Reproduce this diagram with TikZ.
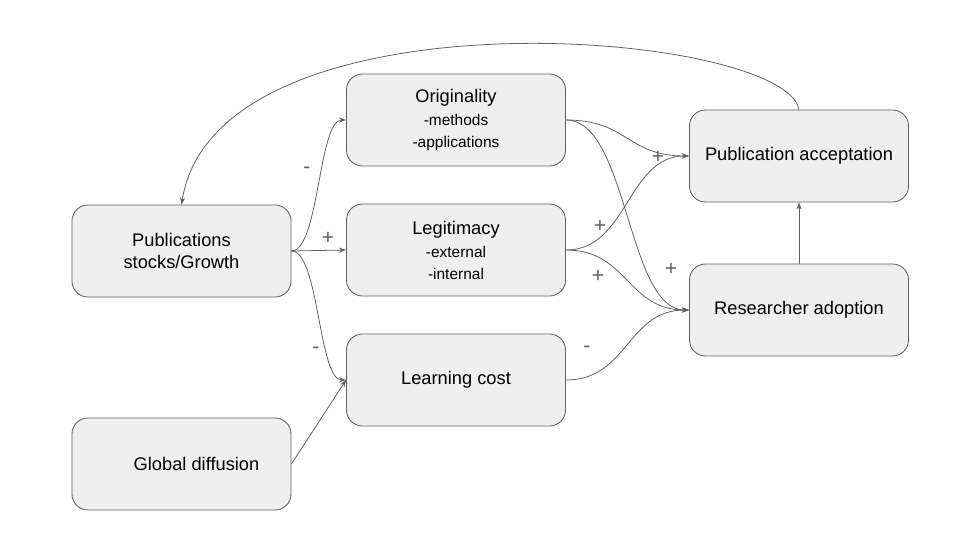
\documentclass[tikz,border=0pt]{standalone}
\usepackage{fontspec}
\setmainfont{Liberation Sans}
\usetikzlibrary{arrows.meta}
\definecolor{boxgray}{RGB}{239, 239, 239}
\definecolor{linegray}{RGB}{95, 95, 95}
\newcommand{\subtext}{\fontsize{11}{13}\selectfont}
\begin{document}
\begin{tikzpicture}[x=0.025cm, y=0.025cm,
    box/.style={draw=linegray, line width=0.6pt, fill=boxgray, rounded corners=0.4cm,
        minimum width=5.475cm, minimum height=2.3cm, align=center,
        font=\fontsize{13}{15.5}\selectfont},
    link/.style={draw=linegray, line width=0.55pt, -{Stealth[length=5pt,width=3.6pt]}},
    sign/.style={text=linegray, font=\fontsize{15}{17}\selectfont, inner sep=0pt}]
        \useasboundingbox (0,0) rectangle (960,-540);
        \fill[white] (0,0) rectangle (960,-540);

        % Boxes
        \node[box] (pub) at (181.5,-251) {Publications\\stocks/Growth};
        \node[box] (glob) at (181.5,-464) {\hspace*{0.75cm}Global diffusion};
        \node[box] (orig) at (456,-120) {Originality\\[1pt]{\subtext -methods}\\{\subtext -applications}};
        \node[box] (legit) at (456,-250) {Legitimacy\\[1pt]{\subtext -external}\\{\subtext -internal}};
        \node[box] (learn) at (456,-380) {Learning cost};
        \node[box] (acc) at (799,-156) {Publication acceptation};
        \node[box] (adopt) at (799,-310) {Researcher adoption};

        % Links out of the left column
        \draw[link] (pub.east) .. controls +(27.5,0) and +(-27.5,0) .. (orig.west);
        \draw[link] (pub.east) -- (legit.west);
        \draw[link] (pub.east) .. controls +(27.5,0) and +(-27.5,0) .. (learn.west);
        \draw[link] (glob.east) -- (learn.west);

        % Links into the right column
        \draw[link] (orig.east) .. controls +(62,0) and +(-62,0) .. (acc.west);
        \draw[link] (orig.east) .. controls +(62,0) and +(-62,0) .. (adopt.west);
        \draw[link] (legit.east) .. controls +(62,0) and +(-62,0) .. (acc.west);
        \draw[link] (legit.east) .. controls +(62,0) and +(-62,0) .. (adopt.west);
        \draw[link] (learn.east) .. controls +(62,0) and +(-62,0) .. (adopt.west);
        \draw[link] (adopt.north) -- (acc.south);

        % Feedback arc
        \draw[link] (acc.north) .. controls +(-15,80) and +(35,220) .. (pub.north);

        % Signs
        \node[sign] (s1) at (307,-170) {-};
        \node[sign] (s2) at (328,-238) {+};
        \node[sign] (s3) at (316,-350) {-};
        \node[sign] (s4) at (658,-157) {+};
        \node[sign] (s5) at (600,-226) {+};
        \node[sign] (s6) at (598,-276) {+};
        \node[sign] (s7) at (671,-269) {+};
        \node[sign] (s8) at (587,-349) {-};
\end{tikzpicture}
\end{document}
